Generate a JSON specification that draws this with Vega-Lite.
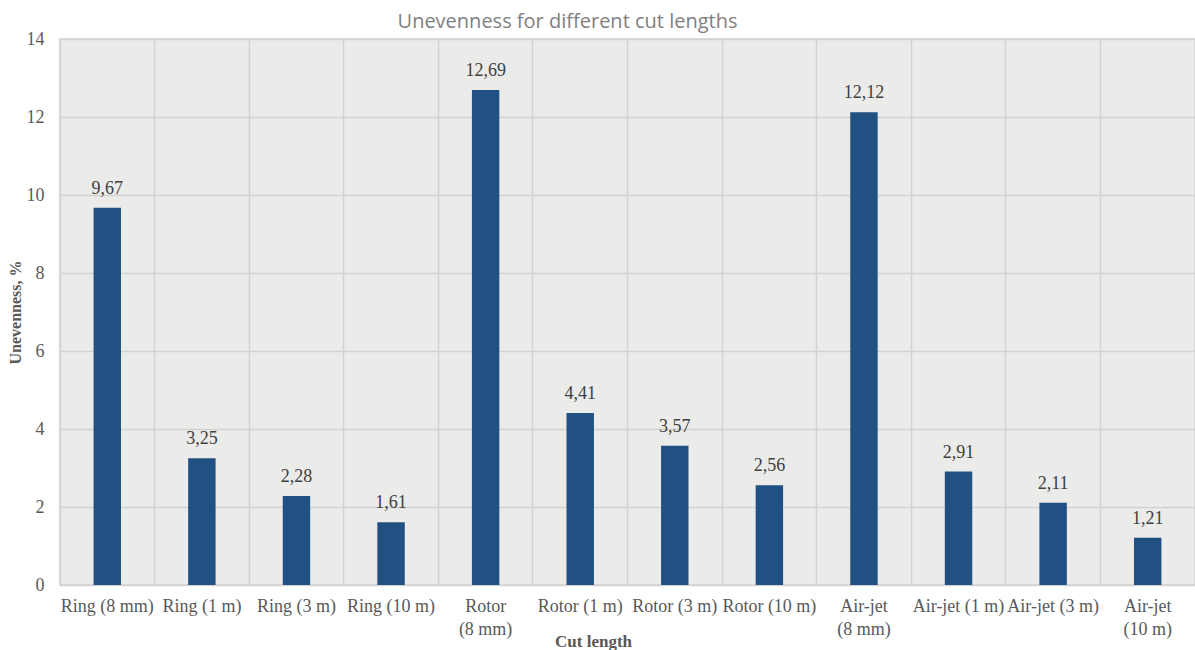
{
  "$schema": "https://vega.github.io/schema/vega-lite/v6.json",
  "autosize": {"type": "none"},
  "width": 1135,
  "height": 546,
  "padding": {"left": 60, "top": 39, "right": 0, "bottom": 65},
  "background": "white",
  "config": {
    "locale": {"number": {"decimal": ",", "thousands": ".", "grouping": [3], "currency": ["", " €"]}},
    "view": {"fill": "#ebebe9", "stroke": "#d2d2d2", "strokeWidth": 1.5},
    "font": "Liberation Serif"
  },
  "title": {
    "text": "Unevenness for different cut lengths",
    "font": "Open Sans",
    "fontSize": 20,
    "fontWeight": "normal",
    "color": "#808080",
    "anchor": "middle",
    "frame": "group",
    "dx": -60,
    "offset": -2
  },
  "data": {
    "values": [
      {"cut": "Ring (8 mm)", "value": 9.67},
      {"cut": "Ring (1 m)", "value": 3.25},
      {"cut": "Ring (3 m)", "value": 2.28},
      {"cut": "Ring (10 m)", "value": 1.61},
      {"cut": "Rotor (8 mm)", "value": 12.69},
      {"cut": "Rotor (1 m)", "value": 4.41},
      {"cut": "Rotor (3 m)", "value": 3.57},
      {"cut": "Rotor (10 m)", "value": 2.56},
      {"cut": "Air-jet (8 mm)", "value": 12.12},
      {"cut": "Air-jet (1 m)", "value": 2.91},
      {"cut": "Air-jet (3 m)", "value": 2.11},
      {"cut": "Air-jet (10 m)", "value": 1.21}
    ]
  },
  "encoding": {
    "x": {
      "field": "cut",
      "type": "nominal",
      "sort": null,
      "scale": {"paddingInner": 0, "paddingOuter": 0},
      "axis": {
        "title": "Cut length",
        "titleFont": "Liberation Serif",
        "titleFontSize": 17,
        "titleFontWeight": "bold",
        "titleColor": "#595959",
        "titleX": 533,
        "titleY": 56,
        "titleBaseline": "middle",
        "labelAngle": 0,
        "labelFont": "Liberation Serif",
        "labelFontSize": 18,
        "labelColor": "#595959",
        "labelPadding": 12,
        "labelBaseline": "top",
        "labelLineHeight": 23,
        "labelExpr": "datum.label == 'Rotor (8 mm)' ? ['Rotor', '(8 mm)'] : datum.label == 'Air-jet (8 mm)' ? ['Air-jet', '(8 mm)'] : datum.label == 'Air-jet (10 m)' ? ['Air-jet', '(10 m)'] : datum.label",
        "ticks": false,
        "domain": false,
        "grid": true,
        "bandPosition": 0,
        "gridColor": "#d2d2d2",
        "gridWidth": 1.5
      }
    },
    "y": {
      "field": "value",
      "type": "quantitative",
      "scale": {"domain": [0, 14], "nice": false},
      "axis": {
        "title": "Unevenness, %",
        "titleFont": "Liberation Serif",
        "titleFontSize": 16,
        "titleFontWeight": "bold",
        "titleColor": "#595959",
        "titleX": -45,
        "titleY": 273,
        "titleAlign": "center",
        "titleBaseline": "middle",
        "values": [0, 2, 4, 6, 8, 10, 12, 14],
        "labelFont": "Liberation Serif",
        "labelFontSize": 18,
        "labelColor": "#595959",
        "labelPadding": 16,
        "ticks": false,
        "domain": false,
        "grid": true,
        "gridColor": "#d2d2d2",
        "gridWidth": 1.5
      }
    }
  },
  "layer": [
    {
      "mark": {"type": "bar", "color": "#215082", "width": {"band": 0.29}}
    },
    {
      "mark": {"type": "text", "baseline": "bottom", "dy": -10, "fontSize": 18, "font": "Liberation Serif", "color": "#404040"},
      "encoding": {
        "text": {"field": "value", "type": "quantitative", "format": ".2f"}
      }
    }
  ]
}
